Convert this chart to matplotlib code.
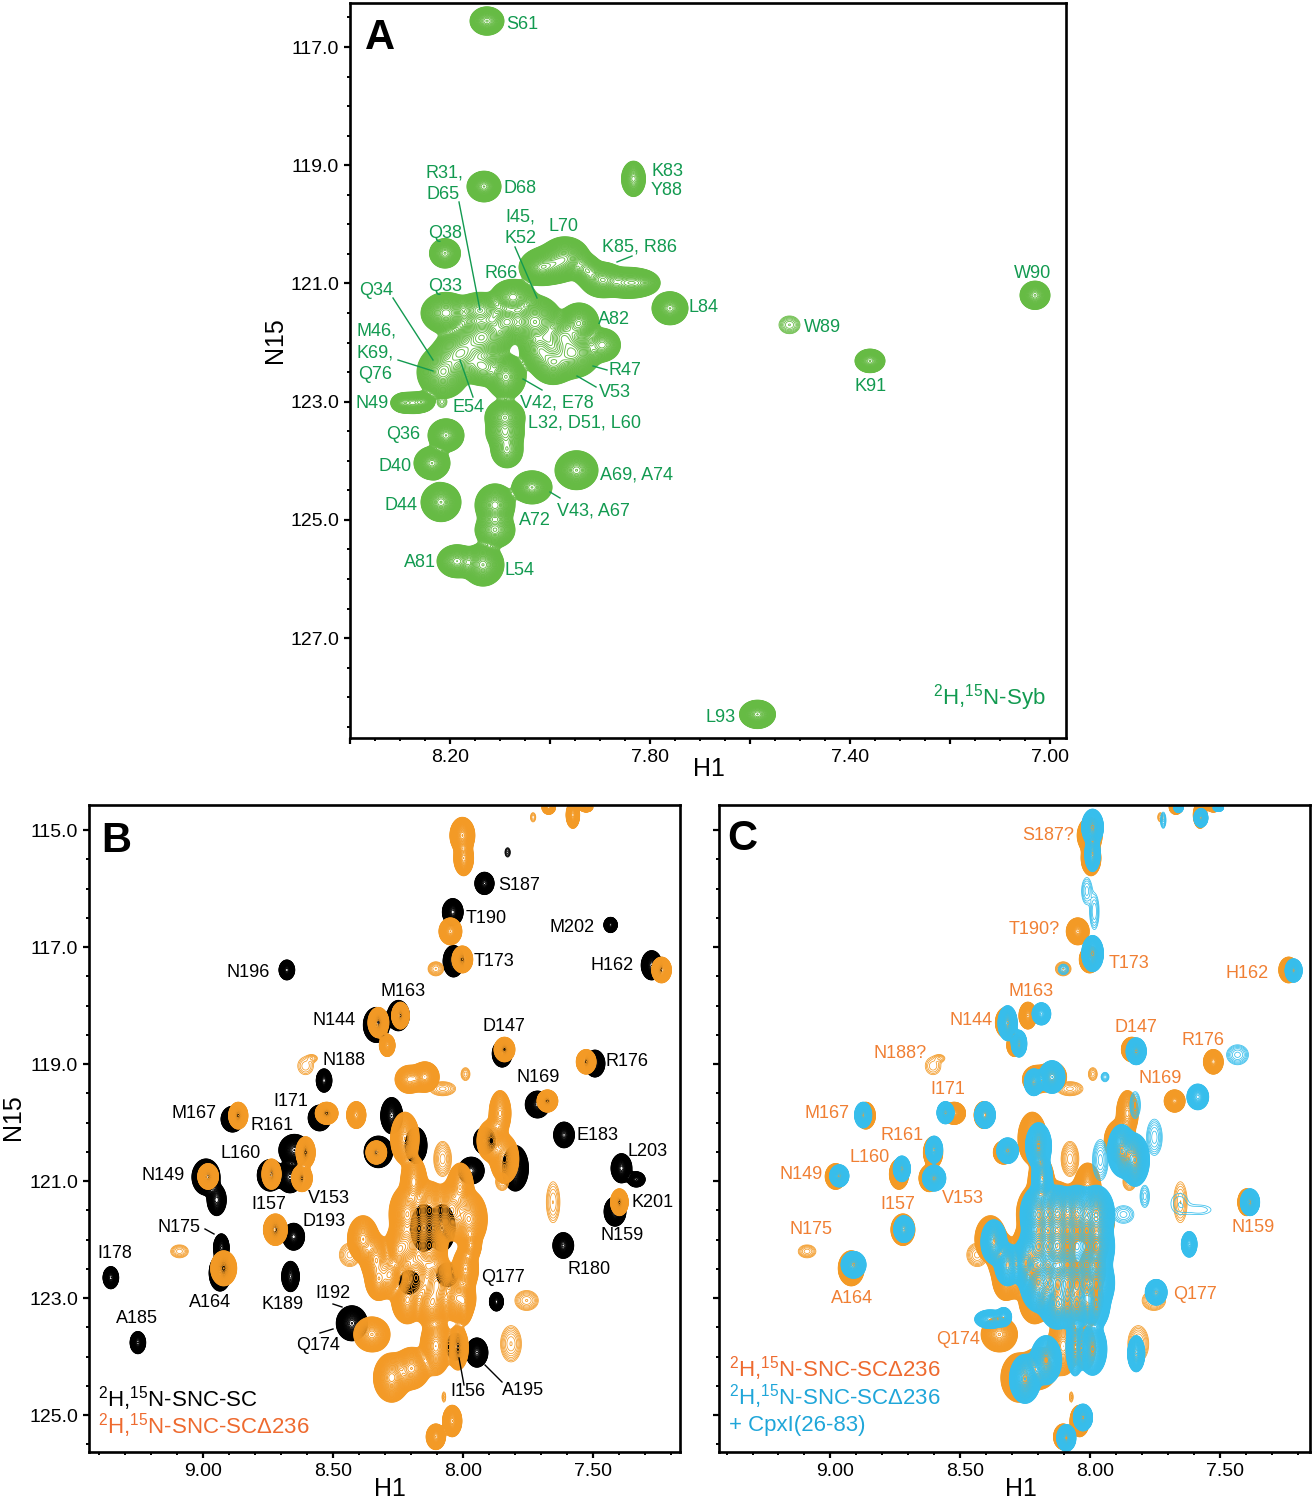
import numpy as np
import matplotlib
matplotlib.use("Agg")
import matplotlib.pyplot as plt
from matplotlib.lines import Line2D
from matplotlib.ticker import MultipleLocator, FixedLocator, FuncFormatter
from matplotlib.transforms import ScaledTranslation

plt.rcParams['font.family'] = ['Liberation Sans', 'DejaVu Sans']
plt.rcParams['mathtext.fontset'] = 'custom'
plt.rcParams['mathtext.rm'] = 'Liberation Sans'
plt.rcParams['mathtext.default'] = 'regular'

# Peak tables: (H1 ppm, N15 ppm, half-width H1, half-width N15, relative intensity)
syb_peaks = [
 (8.126,116.56,.034,.24,.5),(8.132,119.36,.034,.26,1),(7.833,119.23,.024,.30,.35),(8.21,120.49,.031,.25,.5),
 (7.97,120.57,.05,.36,1),(8.00,120.69,.055,.32,1),(8.02,120.74,.04,.28,1),(7.895,120.94,.045,.30,1),
 (7.847,120.99,.05,.26,.6),(7.82,120.99,.04,.22,.4),(7.927,120.77,.03,.26,.5),(7.76,121.42,.036,.28,1),
 (8.208,121.50,.05,.35,.8),(8.074,121.23,.045,.30,.8),(8.14,121.45,.05,.30,.6),(8.136,121.91,.06,.45,1),
 (8.03,121.65,.055,.45,1),(8.086,121.65,.04,.33,.6),(7.942,121.67,.04,.34,1),(7.974,121.9,.045,.35,.7),
 (7.895,122.04,.036,.28,.35),(7.954,122.18,.055,.42,1),(7.994,122.35,.045,.36,.8),(8.02,122.13,.04,.36,.6),
 (8.214,122.5,.052,.45,1),(8.18,122.18,.055,.42,.8),(8.134,122.41,.045,.32,.5),(8.088,122.58,.04,.38,1),
 (8.272,123.02,.036,.18,.4),(8.294,123.02,.024,.16,.4),(8.254,123.0,.022,.15,.4),(8.216,123.0,.01,.1,.1),
 (8.208,123.57,.036,.28,1),(8.236,124.04,.036,.28,1),(8.09,123.26,.040,.30,.8),(8.086,123.82,.032,.30,.35),
 (8.09,123.53,.038,.28,.4),(7.947,124.16,.043,.33,1),(8.036,124.45,.04,.28,1),(8.11,124.75,.04,.36,.8),
 (8.11,125.17,.04,.30,.5),(8.218,124.70,.04,.33,1),(8.186,125.70,.04,.28,.6),(8.134,125.76,.042,.36,1),
 (7.521,121.70,.021,.15,.25),(7.03,121.2,.03,.24,.5),(7.36,122.31,.03,.2,.5),(7.585,128.29,.036,.24,1),
]

snc_sc_peaks = [
 (7.917,115.91,.037,.19,.7),(7.828,115.38,.010,.08,.1),(8.039,116.40,.04,.23,.8),(8.036,117.24,.04,.27,.8),
 (7.432,116.62,.026,.13,.5),(7.274,117.31,.04,.25,1),(8.677,117.39,.03,.17,.6),(8.333,118.33,.05,.30,1),
 (8.248,118.17,.042,.26,.8),(8.534,119.28,.03,.20,.6),(7.849,118.82,.038,.23,1),(7.492,118.99,.038,.23,1),
 (7.713,119.69,.047,.23,1),(8.551,119.92,.044,.22,1),(8.886,119.94,.044,.22,1),(7.611,120.21,.04,.22,.7),
 (7.39,120.78,.04,.25,.8),(7.333,120.97,.034,.13,.5),(7.415,121.52,.042,.25,1),(7.614,122.10,.04,.22,.7),
 (8.988,120.93,.054,.31,1),(8.947,121.32,.037,.27,.4),(8.648,120.47,.06,.27,1),(8.665,120.93,.05,.27,1),
 (8.741,120.9,.05,.27,1),(8.724,121.83,.042,.23,1),(8.651,121.95,.042,.23,.8),(8.663,122.63,.034,.26,.7),
 (8.929,122.14,.03,.24,.7),(8.934,122.57,.042,.31,1),(9.354,122.65,.03,.19,.5),(9.25,123.76,.03,.19,.5),
 (8.427,123.43,.06,.30,1),(7.871,123.06,.027,.16,.4),(7.946,123.93,.042,.25,1),(8.027,123.83,.037,.23,.8),
 (8.274,119.88,.042,.31,1),(8.18,120.39,.042,.31,1),(8.325,120.5,.055,.27,1),(7.968,120.82,.05,.23,.8),
 (7.917,120.31,.042,.23,1),(7.798,120.78,.05,.39,1),(8.206,122.73,.04,.2,1),(8.06,122.6,.04,.2,1),
 (8.15,121.8,.05,.4,1),(8.08,121.8,.05,.4,1),
]

snc_d236_peaks = [
 (8.002,115.09,.048,.31,1),(7.997,115.48,.038,.30,.6),(7.67,114.61,.026,.12,.6),(7.577,114.74,.026,.23,.6),
 (7.526,114.61,.026,.08,.6),(7.73,114.78,.01,.08,.08),(8.048,116.73,.044,.23,1),(8.002,117.21,.04,.23,1),
 (8.104,117.37,.03,.12,.25),(7.236,117.39,.038,.22,1),(8.24,118.17,.034,.23,1),(8.325,118.29,.04,.26,1),
 (8.291,118.68,.03,.19,.7),(8.605,119.03,.03,.15,.08),(8.58,118.9,.02,.06,.08),(8.206,119.26,.055,.24,.35),
 (8.146,119.22,.055,.26,.8),(8.078,119.42,.05,.12,.2),(7.99,119.17,.017,.11,.1),(7.84,118.75,.04,.21,1),
 (7.526,118.96,.038,.21,1),(7.675,119.63,.04,.19,1),(8.524,119.84,.044,.19,1),(8.41,119.87,.037,.23,1),
 (8.864,119.88,.037,.23,1),(8.605,120.51,.037,.27,1),(8.619,120.95,.04,.23,1),(8.736,120.88,.037,.26,1),
 (8.98,120.92,.04,.22,1),(8.721,121.83,.046,.27,1),(9.09,122.2,.034,.11,.15),(8.92,122.49,.05,.30,1),
 (7.398,121.36,.034,.23,1),(7.653,121.36,.026,.35,.12),(7.755,123.04,.045,.17,.25),(7.815,123.78,.04,.31,.25),
 (8.041,125.1,.037,.27,1),(8.104,125.37,.037,.22,1),(8.073,124.69,.007,.09,.07),(8.223,120.27,.055,.45,1),
 (8.333,120.51,.04,.2,1),(8.078,120.62,.034,.3,.3),(7.857,119.84,.042,.39,.35),(7.891,120.31,.055,.36,.8),
 (7.84,120.62,.055,.42,.8),(7.849,121.01,.025,.15,.2),(8.189,121.01,.05,.45,.8),(8.01,121.09,.05,.4,.8),
 (8.214,121.56,.07,.5,1),(8.129,121.5,.07,.5,1),(8.044,121.5,.07,.5,1),(7.976,121.65,.07,.5,1),
 (8.214,122.1,.07,.5,1),(8.129,122.1,.07,.5,1),(8.18,122.65,.07,.5,1),(8.1,122.75,.07,.5,1),
 (8.214,123.04,.06,.4,1),(8.12,123.1,.07,.4,1),(8.02,123.0,.07,.4,1),(7.99,122.5,.05,.4,1),(7.97,122.1,.04,.28,1),
 (8.384,121.99,.06,.4,.6),(8.333,122.34,.06,.42,.8),(8.325,122.69,.05,.35,.8),(8.25,122.18,.05,.42,1),
 (8.28,122.6,.05,.4,.8),(8.435,122.26,.04,.2,.2),(8.35,123.62,.07,.30,.5),(8.274,124.36,.07,.42,.8),
 (8.197,124.2,.07,.36,.6),(8.104,123.82,.06,.5,.6),(8.019,123.85,.04,.38,.6),(7.993,123.1,.03,.35,.5),
]

snc_d236_cpx_peaks = [
 (7.991,114.95,.042,.31,1),(7.991,115.41,.030,.30,.6),(7.574,114.79,.027,.16,.6),(7.66,114.62,.018,.08,.6),
 (7.507,114.62,.02,.06,.6),(7.719,114.83,.01,.14,.2),(8.013,116.04,.02,.23,.1),(7.984,116.39,.018,.31,.12),
 (7.991,117.11,.042,.31,1),(8.103,117.38,.02,.09,.15),(7.217,117.4,.033,.2,1),(8.318,118.3,.037,.3,1),
 (8.274,118.65,.03,.23,.7),(8.188,118.14,.036,.19,.7),(7.823,118.78,.039,.23,1),(7.433,118.84,.042,.17,.2),
 (7.943,119.22,.015,.08,.15),(8.217,119.31,.037,.23,.7),(8.147,119.22,.05,.28,1),(7.586,119.56,.042,.22,.35),
 (8.557,119.83,.033,.19,1),(8.405,119.87,.04,.23,1),(8.874,119.87,.033,.22,1),(7.827,119.7,.02,.23,.15),
 (8.601,120.46,.033,.23,1),(8.601,120.95,.045,.22,1),(8.725,120.79,.033,.22,1),(8.966,120.91,.037,.19,1),
 (8.717,121.82,.04,.23,1),(8.911,122.43,.048,.23,1),(7.385,121.36,.037,.23,1),(7.619,122.08,.03,.22,.7),
 (7.746,122.9,.042,.22,1),(7.823,123.95,.033,.31,1),(7.753,120.25,.03,.31,.15),(7.79,121.26,.018,.19,.1),
 (7.656,121.38,.033,.17,.04),(7.58,121.49,.045,.08,.04),(7.879,120.48,.055,.45,.8),(7.827,120.64,.055,.45,.8),
 (8.318,120.48,.042,.22,1),(8.199,120.4,.05,.40,1),(8.185,120.95,.04,.38,.8),(7.961,120.64,.03,.35,.2),
 (8.2,121.57,.07,.5,1),(8.125,121.57,.07,.5,1),(8.051,121.57,.07,.5,1),(7.976,121.57,.07,.5,1),
 (8.2,122.12,.07,.5,1),(8.125,122.12,.07,.5,1),(8.051,122.12,.07,.5,1),(7.976,122.12,.07,.5,1),
 (8.2,122.74,.07,.5,1),(8.125,122.74,.07,.5,1),(8.051,122.74,.07,.5,1),(7.976,122.74,.07,.5,1),
 (8.125,123.13,.07,.4,1),(8.051,123.13,.07,.4,1),(7.976,123.13,.05,.4,1),(7.872,121.57,.04,.15,.1),
 (8.371,122.04,.05,.38,.8),(8.318,122.43,.05,.36,.8),(8.25,122.4,.05,.42,1),(8.385,123.36,.06,.16,.4),
 (8.333,123.32,.03,.16,.4),(8.251,124.38,.06,.42,1),(8.17,124.06,.06,.42,.8),(8.058,123.83,.035,.5,.35),
 (7.991,123.87,.055,.45,1),(8.028,125.04,.037,.23,1),(8.092,125.39,.037,.23,1),
]

GREEN, BLACK, ORANGE, BLUE = '#66BB44', '#000000', '#F39A26', '#37BEEC'
GREEN_T, ORANGE_T, ORANGE_L, BLUE_T = '#129A50', '#F07F33', '#EE6A2F', '#1FA6D9'

W, H_PX = 1314, 1500
fig = plt.figure(figsize=(W / 100, H_PX / 100), dpi=100, facecolor='white')

LOW = 0.02
solid_levels = np.geomspace(LOW, 4, 54)
open_levels = np.geomspace(LOW, 1, 12)


def make_axes(left, top, right, bottom, xlim, ylim):
    ax = fig.add_axes([left / W, 1 - bottom / H_PX, (right - left) / W, (bottom - top) / H_PX])
    ax.set_xlim(*xlim)
    ax.set_ylim(*ylim)
    for s in ax.spines.values():
        s.set_linewidth(1.9)
    return ax


def field(ax, peaks):
    x0, x1 = ax.get_xlim()
    y0, y1 = ax.get_ylim()
    bb = ax.get_window_extent()
    gx = np.linspace(x0, x1, int(bb.width * 0.9))
    gy = np.linspace(y0, y1, int(bb.height * 0.9))
    X, Y = np.meshgrid(gx, gy)
    Z = np.zeros_like(X)
    for h, n, rh, rn, a in peaks:
        k = np.sqrt(2 * np.log(a / LOW))
        Z += a * np.exp(-0.5 * (((X - h) / (rh / k)) ** 2 + ((Y - n) / (rn / k)) ** 2))
    return X, Y, Z


def draw(ax, peaks, color):
    strong = [p for p in peaks if p[4] > 0.3]
    weak = [p for p in peaks if p[4] <= 0.3]
    if weak:
        ax.contour(*field(ax, weak), levels=open_levels, colors=color, linewidths=0.55)
    ax.contour(*field(ax, strong), levels=solid_levels, colors=color, linewidths=0.65)


def style_ticks(ax, xmajor, xminor, xshown, yticks, show_y):
    ax.xaxis.set_major_locator(MultipleLocator(xmajor))
    ax.xaxis.set_minor_locator(MultipleLocator(xminor))
    ax.yaxis.set_major_locator(FixedLocator(yticks))
    ax.yaxis.set_minor_locator(MultipleLocator(0.5))
    ax.xaxis.set_major_formatter(FuncFormatter(
        lambda v, p: '%.2f' % v if any(abs(v - s) < 1e-6 for s in xshown) else ''))
    ax.yaxis.set_major_formatter(FuncFormatter(
        lambda v, p: '%.1f' % v if show_y else ''))
    ax.tick_params(which='major', length=4, width=1.6, labelsize=14, pad=4, color='black')
    ax.tick_params(which='minor', length=2.2, width=1.4)


def put(items, color, size=13):
    for text, x, y in items:
        fig.text(x / W, 1 - (y + 1.5) / H_PX, text, color=color, fontsize=size, ha='center', va='center')


def leaders(items, color):
    for x0, y0, x1, y1 in items:
        fig.add_artist(Line2D([x0 / W, x1 / W], [1 - y0 / H_PX, 1 - y1 / H_PX],
                              color=color, lw=1.0, transform=fig.transFigure))


def left_text(text, x, y, color, size=16):
    fig.text(x / W, 1 - y / H_PX, text, color=color, fontsize=size, ha='left', va='center')


# Panel A
axA = make_axes(350, 3, 1066, 738, (8.40, 6.968), (128.69, 116.255))
draw(axA, syb_peaks, GREEN)
style_ticks(axA, 0.2, 0.05, [8.2, 7.8, 7.4, 7.0], [117, 119, 121, 123, 125, 127], True)
put([('S61',522,23),('D68',520,187),('K83',667,170),('Y88',667,189),('R31,',444,172),('D65',443,193),
     ('Q38',445,232),('I45,',520,216),('K52',521,237),('L70',563,225),('K85, R86',640,245),('R66',501,272),
     ('Q33',445,285),('Q34',376,289),('M46,',377,330),('K69,',375,352),('Q76',375,373),('A82',614,318),
     ('L84',704,306),('R47',625,369),('V53',615,391),('V42, E78',557,401),('N49',372,402),('E54',468,406),
     ('L32, D51, L60',585,422),('Q36',403,433),('D40',395,465),('A69, A74',636,474),('D44',401,504),
     ('V43, A67',593,509),('A72',535,519),('A81',420,561),('L54',520,569),('W89',822,326),('W90',1033,272),
     ('K91',871,385),('L93',721,716)], GREEN_T)
leaders([(459,202,480,310),(515,247,537,298),(632,256,617,262),(393,298,433,360),(398,360,433,371),
         (460,360,473,397),(523,379,542,390),(593,366,607,370),(577,376,596,387),(550,492,560,498)], GREEN_T)
left_text('$^{2}$H,$^{15}$N-Syb', 933, 698, GREEN_T)

# Panel B
axB = make_axes(89, 805, 680, 1452, (9.438, 7.165), (125.63, 114.57))
draw(axB, snc_sc_peaks, BLACK)
draw(axB, snc_d236_peaks, ORANGE)
style_ticks(axB, 0.5, 0.1, [9.0, 8.5, 8.0, 7.5], [115, 117, 119, 121, 123, 125], True)
put([('S187',519,884),('T190',486,917),('M202',572,926),('T173',494,960),('H162',612,964),('N196',248,971),
     ('M163',403,990),('N144',334,1019),('D147',504,1025),('N188',344,1059),('R176',627,1060),('N169',538,1076),
     ('I171',291,1100),('M167',194,1112),('R161',272,1124),('E183',598,1134),('L160',241,1152),('L203',648,1150),
     ('N149',163,1174),('I157',269,1203),('K201',653,1201),('V153',329,1197),('D193',324,1220),('N175',179,1226),
     ('N159',622,1234),('I178',115,1252),('R180',589,1268),('Q177',503,1276),('A164',210,1301),('K189',283,1303),
     ('I192',333,1292),('A185',137,1317),('Q174',318,1344),('I156',468,1390),('A195',523,1389)], BLACK)
leaders([(205,1229,214,1234),(333,1304,342,1307),(320,1333,333,1329),(459,1358,464,1385),(485,1365,502,1382)], BLACK)
left_text('$^{2}$H,$^{15}$N-SNC-SC', 98, 1399, BLACK)
left_text('$^{2}$H,$^{15}$N-SNC-SC\u0394236', 98, 1426, ORANGE_L)

# Panel C
axC = make_axes(719, 805, 1310, 1452, (9.429, 7.154), (125.63, 114.57))
draw(axC, snc_d236_peaks, ORANGE)
draw(axC, snc_d236_cpx_peaks, BLUE)
style_ticks(axC, 0.5, 0.1, [9.0, 8.5, 8.0, 7.5], [115, 117, 119, 121, 123, 125], False)
put([('S187?',1048,834),('T190?',1034,928),('T173',1129,962),('H162',1247,972),('M163',1031,990),('N144',971,1019),
     ('D147',1136,1026),('R176',1203,1039),('N188?',900,1052),('N169',1160,1077),('I171',948,1088),('M167',827,1112),
     ('R161',902,1134),('L160',870,1156),('N149',801,1173),('I157',898,1203),('V153',963,1197),('N175',811,1228),
     ('N159',1253,1226),('Q177',1195,1293),('A164',852,1297),('Q174',958,1338)], ORANGE_T)
left_text('$^{2}$H,$^{15}$N-SNC-SC\u0394236', 729, 1369, ORANGE_L)
left_text('$^{2}$H,$^{15}$N-SNC-SC\u0394236', 729, 1397, BLUE_T)
left_text('+ CpxI(26-83)', 729, 1426, BLUE_T)

# Panel C's tick labels sit a little right of their ticks in the reference
fig.canvas.draw()
shift = ScaledTranslation(5 / 100, 0, fig.dpi_scale_trans)
for tick in axC.xaxis.get_major_ticks():
    tick.label1.set_transform(tick.label1.get_transform() + shift)

# Axis titles and panel letters
put([('H1',709,768),('H1',390,1488),('H1',1021,1487)], BLACK, 18)
fig.text(275 / W, 1 - 340 / H_PX, 'N15', rotation=90, fontsize=18, ha='center', va='center')
fig.text(13 / W, 1 - 1117 / H_PX, 'N15', rotation=90, fontsize=18, ha='center', va='center')
for letter, x, y in [('A',380,38),('B',116,841),('C',742,839)]:
    fig.text(x / W, 1 - y / H_PX, letter, fontsize=30, fontweight='bold', ha='center', va='center')

fig.savefig('out.png', dpi=100)
